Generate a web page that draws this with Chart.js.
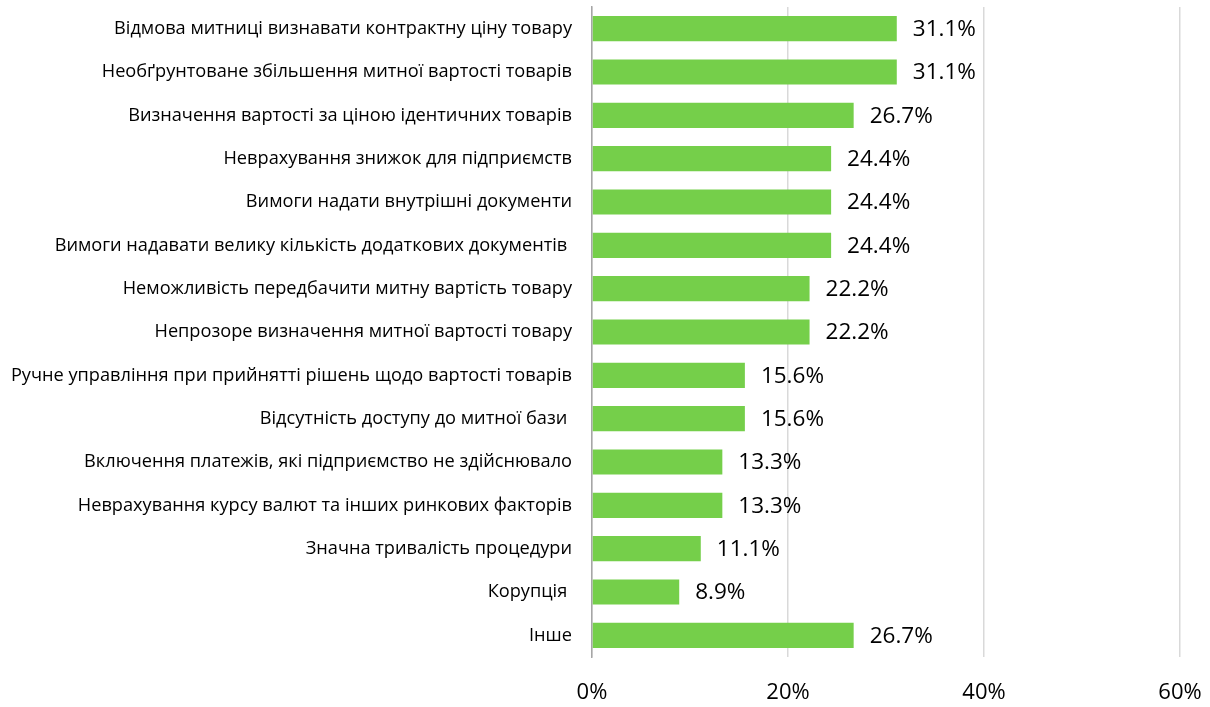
<!DOCTYPE html>
<html lang="uk">
<head>
<meta charset="utf-8">
<title>Проблеми митної оцінки</title>
<script src="https://cdn.jsdelivr.net/npm/chart.js@4.4.1/dist/chart.umd.min.js"></script>
<style>
  html, body { margin: 0; padding: 0; background: #fff; }
  #wrap { width: 1210px; height: 707px; position: relative; }
</style>
</head>
<body>
<div id="wrap"><canvas id="myChart"></canvas></div>
<script>
// categories, top to bottom
const categories = [
  'Відмова митниці визнавати контрактну ціну товару',
  'Необґрунтоване збільшення митної вартості товарів',
  'Визначення вартості за ціною ідентичних товарів',
  'Неврахування знижок для підприємств',
  'Вимоги надати внутрішні документи',
  'Вимоги надавати велику кількість додаткових документів ',
  'Неможливість передбачити митну вартість товару',
  'Непрозоре визначення митної вартості товару',
  'Ручне управління при прийнятті рішень щодо вартості товарів',
  'Відсутність доступу до митної бази ',
  'Включення платежів, які підприємство не здійснювало',
  'Неврахування курсу валют та інших ринкових факторів',
  'Значна тривалість процедури',
  'Корупція ',
  'Інше'
];
const shares = [31.1, 31.1, 26.7, 24.4, 24.4, 24.4, 22.2, 22.2, 15.6, 15.6, 13.3, 13.3, 11.1, 8.9, 26.7];
const xTicks = [0, 20, 40, 60];

// labels at the end of every bar
const valueLabels = {
  id: 'valueLabels',
  afterDatasetsDraw(chart) {
    const ctx = chart.ctx;
    const meta = chart.getDatasetMeta(0);
    ctx.save();
    ctx.font = '22.5px "Open Sans", sans-serif';
    ctx.fillStyle = '#000';
    ctx.textAlign = 'left';
    ctx.textBaseline = 'middle';
    meta.data.forEach((bar, i) => {
      ctx.fillText(shares[i].toFixed(1) + '%', bar.x + 16, bar.y + 1);
    });
    ctx.restore();
  }
};

const config = {
  type: 'bar',
  data: {
    labels: categories,
    datasets: [{
      data: shares,
      backgroundColor: '#75CF4A',
      borderWidth: 0,
      categoryPercentage: 1,
      barPercentage: 0.58
    }]
  },
  options: {
    indexAxis: 'y',
    responsive: true,
    maintainAspectRatio: false,
    animation: false,
    layout: { padding: { top: 7, right: 30, left: 0, bottom: 0 } },
    plugins: {
      legend: { display: false },
      tooltip: { enabled: false }
    },
    scales: {
      x: {
        min: 0,
        max: 60,
        afterBuildTicks: (scale) => { scale.ticks = xTicks.map(v => ({ value: v })); },
        ticks: {
          callback: (v) => v + '%',
          font: { family: '"Open Sans", sans-serif', size: 22 },
          color: '#000',
          padding: 23,
          maxRotation: 0
        },
        grid: { color: '#d9d9d9', lineWidth: 1.5, drawTicks: false },
        border: { display: false },
        afterFit: (scale) => {
          scale.height = 50;
          scale.paddingLeft = 0;
          scale.paddingRight = 0;
        }
      },
      y: {
        ticks: {
          font: { family: '"Open Sans", sans-serif', size: 18.2 },
          color: '#000',
          padding: 20,
          autoSkip: false
        },
        grid: { display: false, drawTicks: false },
        border: { color: '#a6a6a6', width: 1.5 },
        afterFit: (scale) => {
          scale.width = 592;
          scale.paddingTop = 0;
          scale.paddingBottom = 0;
        }
      }
    }
  },
  plugins: [valueLabels]
};

new Chart(document.getElementById('myChart'), config);
</script>
</body>
</html>
